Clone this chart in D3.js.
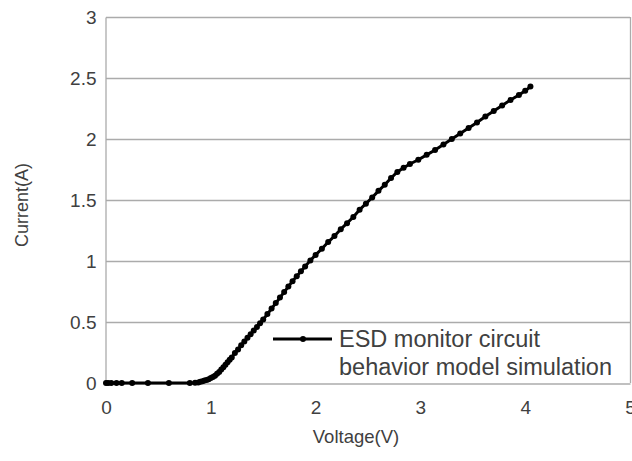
<!DOCTYPE html>
<html><head><meta charset="utf-8">
<script src="https://cdn.jsdelivr.net/npm/d3@7"></script>
<style>body{margin:0;background:#fff}svg{display:block}text{font-family:"Liberation Sans",Arial,sans-serif;fill:#404040}</style>
</head><body><svg id="c" width="632" height="461"></svg>
<script>
const voltage = [0,0.02,0.05,0.1,0.15,0.25,0.4,0.6,0.8,0.85,0.88,0.9,0.92,0.94,0.96,0.98,1.0,1.02,1.04,1.06,1.08,1.1,1.12,1.14,1.16,1.18,1.2,1.23,1.26,1.29,1.32,1.35,1.38,1.41,1.44,1.47,1.5,1.54,1.58,1.62,1.66,1.7,1.74,1.78,1.82,1.86,1.9,1.95,2.0,2.06,2.12,2.18,2.24,2.3,2.36,2.42,2.48,2.54,2.6,2.66,2.72,2.78,2.84,2.9,2.98,3.06,3.14,3.22,3.3,3.38,3.46,3.54,3.62,3.7,3.78,3.86,3.94,4.0,4.05];
const current = [0,0,0,0,0,0,0,0,0,0.002,0.005,0.01,0.015,0.02,0.025,0.03,0.04,0.05,0.06,0.075,0.09,0.11,0.13,0.15,0.17,0.19,0.21,0.245,0.275,0.31,0.34,0.37,0.4,0.43,0.46,0.49,0.52,0.565,0.61,0.655,0.7,0.745,0.79,0.835,0.875,0.915,0.955,1.005,1.05,1.1,1.155,1.205,1.26,1.31,1.36,1.42,1.47,1.52,1.575,1.625,1.68,1.73,1.765,1.795,1.83,1.87,1.91,1.955,2.0,2.045,2.09,2.135,2.185,2.23,2.275,2.32,2.36,2.395,2.43];
const xTicks = [0,1,2,3,4,5];
const yTicks = [0,0.5,1,1.5,2,2.5,3];
const seriesName = ["ESD monitor circuit","behavior model simulation"];
const xTitle = "Voltage(V)", yTitle = "Current(A)";

const svg = d3.select("#c");
const L=106,R=630,T=17,B=383;
const x = d3.scaleLinear().domain([0,5]).range([L,R]);
const y = d3.scaleLinear().domain([0,3]).range([B,T]);
const grid="#ababab";

// gridlines
svg.append("g").selectAll("line").data(yTicks.filter(d=>d>0)).join("line")
  .attr("x1",L).attr("x2",R).attr("y1",d=>y(d)+0.5).attr("y2",d=>y(d)+0.5)
  .attr("stroke",grid).attr("stroke-width",1.3);
// border right
svg.append("line").attr("x1",R+0.5).attr("x2",R+0.5).attr("y1",T).attr("y2",B).attr("stroke",grid).attr("stroke-width",1.3);

// axes
const gx = svg.append("g").attr("transform",`translate(0,${B+0.5})`)
  .call(d3.axisBottom(x).tickValues(xTicks).tickSize(0).tickPadding(17).tickFormat(d3.format("")));
const gy = svg.append("g").attr("transform",`translate(${L-0.5},0)`)
  .call(d3.axisLeft(y).tickValues(yTicks).tickSize(0).tickPadding(9).tickFormat(d3.format("")));
[gx,gy].forEach(g=>{g.select(".domain").attr("stroke",grid).attr("stroke-width",1.3);
  g.selectAll("text").attr("font-size",19).attr("fill","#404040").style("font-family","Liberation Sans, Arial, sans-serif");});

// titles
svg.append("text").attr("x",356).attr("y",443).attr("text-anchor","middle").attr("font-size",18.5).text(xTitle);
svg.append("text").attr("transform",`translate(28,${(T+B)/2+5}) rotate(-90)`).attr("text-anchor","middle").attr("font-size",18).text(yTitle);

// data
const data = voltage.map((v,i)=>({v,c:current[i]}));
svg.append("path").datum(data).attr("fill","none").attr("stroke","#000").attr("stroke-width",3)
  .attr("d",d3.line().x(d=>x(d.v)).y(d=>y(d.c)));
svg.append("g").selectAll("circle").data(data).join("circle")
  .attr("cx",d=>x(d.v)).attr("cy",d=>y(d.c)).attr("r",3).attr("fill","#000");

// legend
const lg = svg.append("g").attr("transform","translate(273,339)");
lg.append("line").attr("x1",0).attr("x2",59).attr("y1",0).attr("y2",0).attr("stroke","#000").attr("stroke-width",3);
lg.append("circle").attr("cx",30).attr("cy",0).attr("r",3).attr("fill","#000");
lg.selectAll("text").data(seriesName).join("text").attr("x",66).attr("y",(d,i)=>8+i*28)
  .attr("font-size",23.5).text(d=>d);
</script></body></html>
